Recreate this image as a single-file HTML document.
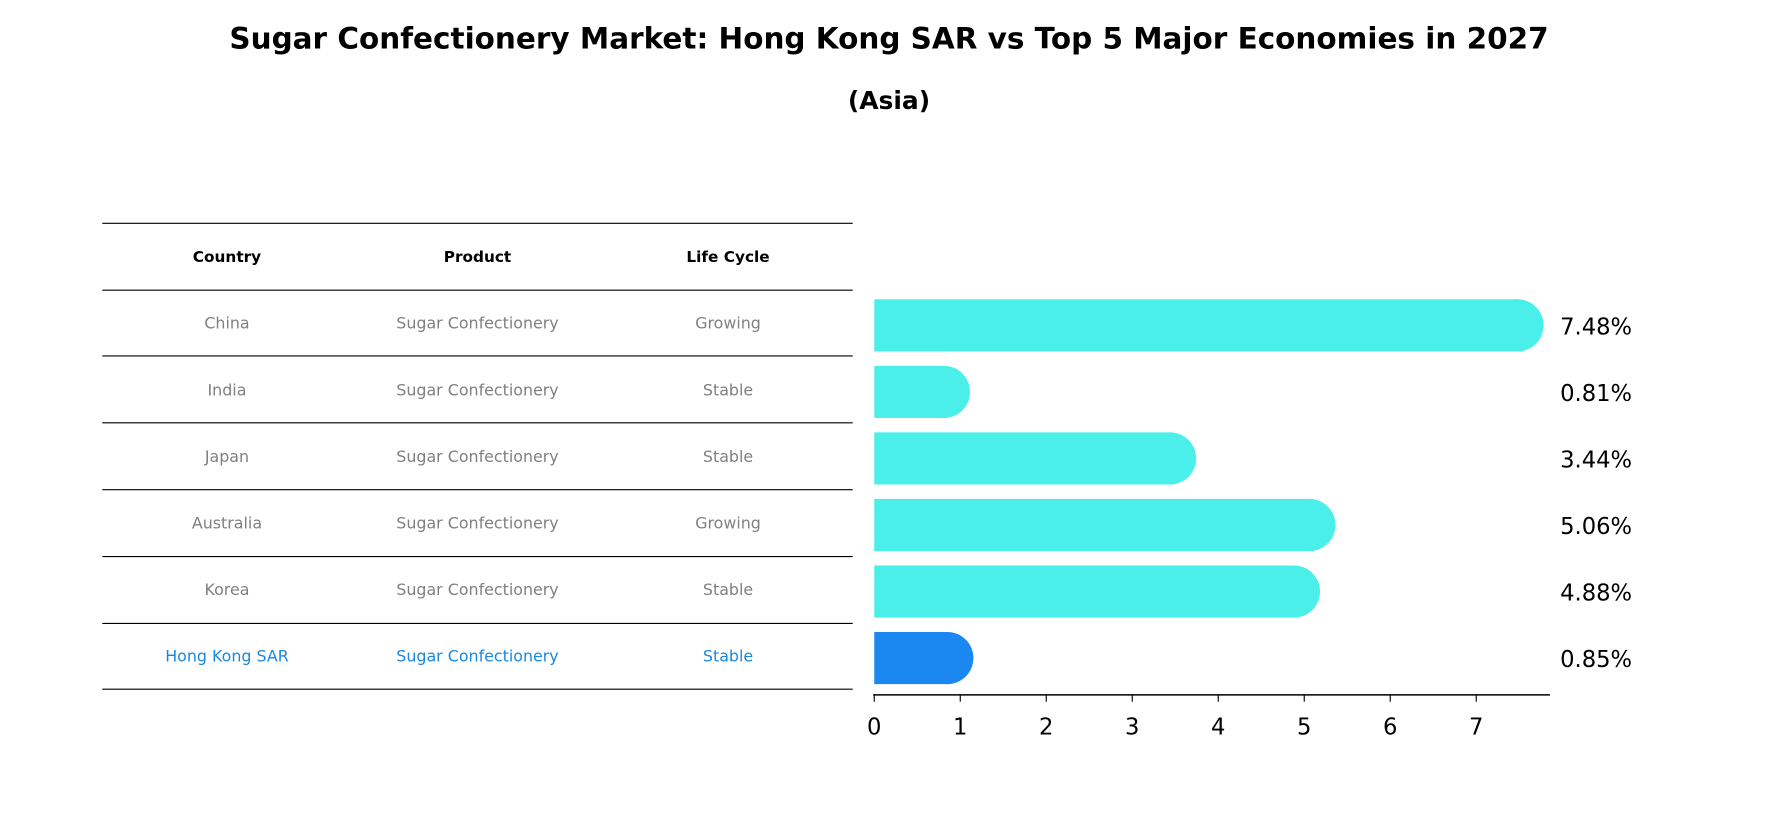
<!DOCTYPE html>
<html><head><meta charset="utf-8"><style>
body{margin:0;background:#fff;font-family:"DejaVu Sans","Liberation Sans",sans-serif;}
svg{display:block}
svg text{font-family:"DejaVu Sans","Liberation Sans",sans-serif;}
</style></head><body>
<svg width="1778" height="823" viewBox="0 0 1568 726" xmlns="http://www.w3.org/2000/svg">
<text x="784" y="43" text-anchor="middle" font-size="26" font-weight="bold">Sugar Confectionery Market: Hong Kong SAR vs Top 5 Major Economies in 2027</text>
<text x="784" y="96" text-anchor="middle" font-size="22" font-weight="bold">(Asia)</text>
<g id="table"></g>
<g id="bars"></g>
<g id="axis"></g>
</svg>
<script>
const countries=["China","India","Japan","Australia","Korea","Hong Kong SAR"];
const products=["Sugar Confectionery","Sugar Confectionery","Sugar Confectionery","Sugar Confectionery","Sugar Confectionery","Sugar Confectionery"];
const lifeCycles=["Growing","Stable","Stable","Growing","Stable","Stable"];
const values=[7.48,0.81,3.44,5.06,4.88,0.85];
const ticks=[0,1,2,3,4,5,6,7];
const NS="http://www.w3.org/2000/svg";
function mk(t,a,p){const e=document.createElementNS(NS,t);for(const k in a)e.setAttribute(k,a[k]);p.appendChild(e);return e;}
const x=v=>771+v*75.86;
const rowY=i=>256+i*58.7;
const tb=document.getElementById('table');
const cols=[200,421,642];
const lines=[197,256,314,373,432,491,550,608];
lines.forEach(y=>{const l=mk('line',{x1:90,x2:752,y1:y,y2:y,stroke:'#000','stroke-width':1},tb);});
["Country","Product","Life Cycle"].forEach((h,j)=>{const t=mk('text',{x:cols[j],y:231,'text-anchor':'middle','font-size':13.5,'font-weight':'bold'},tb);t.textContent=h;});
countries.forEach((c,i)=>{const col=i===5?'#1a88e0':'#808080';[c,products[i],lifeCycles[i]].forEach((s,j)=>{const t=mk('text',{x:cols[j],y:rowY(i)+34,'text-anchor':'middle','font-size':14,fill:col},tb);t.textContent=s;});});
const bg=document.getElementById('bars');
values.forEach((v,i)=>{const cy=rowY(i)+31,h=46,col=i===5?'#1a88f0':'#4aefea';
const g=mk('g',{},bg);
mk('rect',{x:x(0),y:cy-h/2,width:x(v)-x(0),height:h,fill:col},g);
mk('circle',{cx:x(v),cy:cy,r:h/2,fill:col},g);
const t=mk('text',{x:1376,y:cy+8,'font-size':20},bg);t.textContent=v.toFixed(2)+'%';});
const ax=document.getElementById('axis');
mk('line',{x1:770,x2:1367,y1:613,y2:613,stroke:'#000','stroke-width':1.3},ax);
ticks.forEach(v=>{mk('line',{x1:x(v),x2:x(v),y1:613,y2:619,stroke:'#000','stroke-width':1},ax);const t=mk('text',{x:x(v),y:648,'text-anchor':'middle','font-size':20},ax);t.textContent=v;});
</script>
</body></html>
